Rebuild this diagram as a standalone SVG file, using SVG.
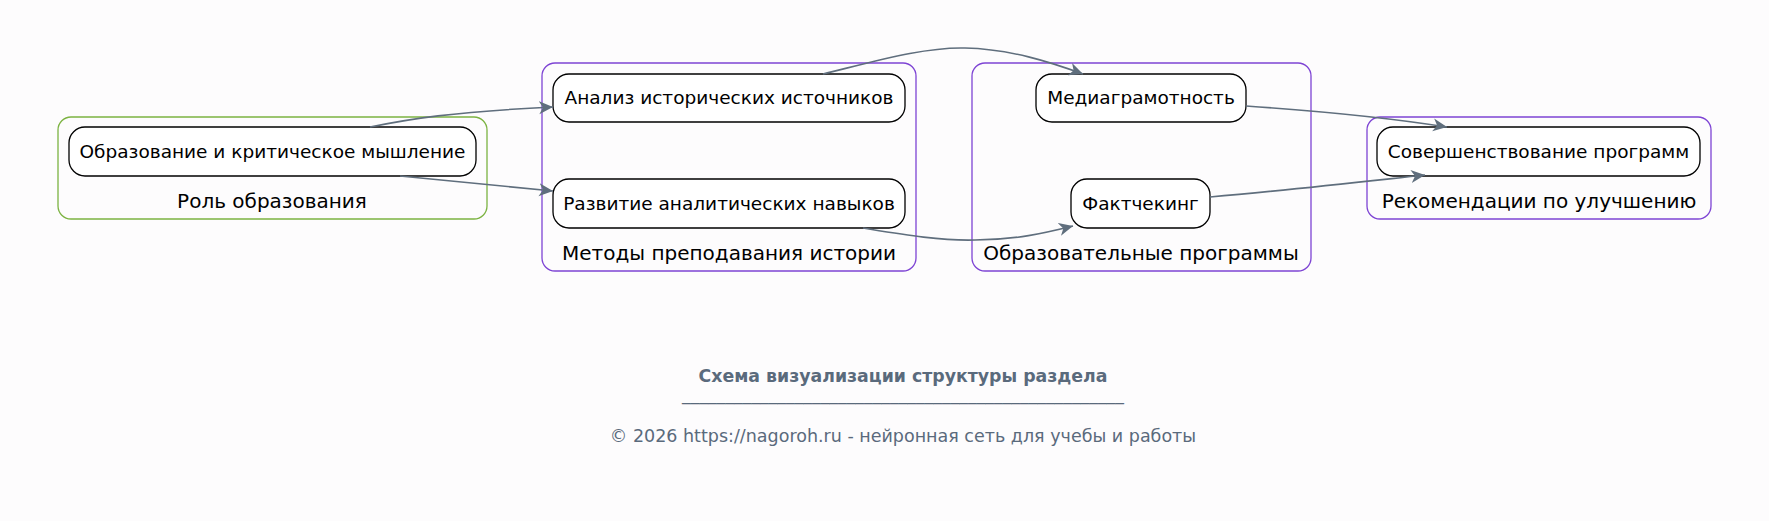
<svg xmlns="http://www.w3.org/2000/svg" width="1769" height="521" viewBox="0 0 1769 521">
<style>
.cl{fill:none;stroke:#7e44d4;stroke-width:1.3}
.cg{fill:none;stroke:#7cb342;stroke-width:1.3}
.nd{fill:#ffffff;stroke:#000000;stroke-width:1.3}
.nt{font-family:"DejaVu Sans",sans-serif;font-size:18.5px;fill:#000;text-anchor:middle}
.ct{font-family:"DejaVu Sans",sans-serif;font-size:20px;fill:#000;text-anchor:middle}
.ed{fill:none;stroke:#5f6e7d;stroke-width:1.6}
.ft{font-family:"DejaVu Sans",sans-serif;fill:#5a6a7c;text-anchor:middle}
</style>
<defs>
<marker id="ah" markerUnits="userSpaceOnUse" markerWidth="16" markerHeight="14" refX="14" refY="7" orient="auto" viewBox="0 0 16 14">
<path d="M0,0.5 L14,7 L0,13.5 L4,7 Z" fill="#5f6e7d"/>
</marker>
</defs>
<rect width="1769" height="521" fill="#fdfcfd"/>
<g id="cluster_role">
<rect class="cg" x="58" y="117" width="429" height="102" rx="13"/>
<text class="ct" x="272" y="208">Роль образования</text>
</g>
<g id="cluster_methods">
<rect class="cl" x="542" y="63" width="374" height="208" rx="13"/>
<text class="ct" x="729" y="260">Методы преподавания истории</text>
</g>
<g id="cluster_programs">
<rect class="cl" x="972" y="63" width="339" height="208" rx="13"/>
<text class="ct" x="1141" y="260">Образовательные программы</text>
</g>
<g id="cluster_recs">
<rect class="cl" x="1367" y="117" width="344" height="102" rx="13"/>
<text class="ct" x="1539" y="208">Рекомендации по улучшению</text>
</g>
<g id="node_edu">
<rect class="nd" x="69" y="127" width="407" height="49" rx="16"/>
<text class="nt" x="272.5" y="158">Образование и критическое мышление</text>
</g>
<g id="node_analysis">
<rect class="nd" x="553" y="74" width="352" height="48" rx="16"/>
<text class="nt" x="729" y="104">Анализ исторических источников</text>
</g>
<g id="node_skills">
<rect class="nd" x="553" y="179" width="352" height="49" rx="16"/>
<text class="nt" x="729" y="210">Развитие аналитических навыков</text>
</g>
<g id="node_media">
<rect class="nd" x="1036" y="74" width="210" height="48" rx="16"/>
<text class="nt" x="1141" y="104">Медиаграмотность</text>
</g>
<g id="node_fact">
<rect class="nd" x="1071" y="179" width="139" height="49" rx="16"/>
<text class="nt" x="1140.5" y="210">Фактчекинг</text>
</g>
<g id="node_improve">
<rect class="nd" x="1377" y="127" width="323" height="49" rx="16"/>
<text class="nt" x="1538.5" y="158">Совершенствование программ</text>
</g>
<g id="connectors">
<path class="ed" marker-end="url(#ah)" d="M370,127 C410,119 450,112 553,107"/>
<path class="ed" marker-end="url(#ah)" d="M400,176 C450,181 500,186 553,191"/>
<path class="ed" marker-end="url(#ah)" d="M823,74 C880,60 925,47 965,48 C1010,49 1050,62 1083,74"/>
<path class="ed" marker-end="url(#ah)" d="M863,228 C900,234 940,241 975,240 C1015,240 1045,233 1073,226"/>
<path class="ed" marker-end="url(#ah)" d="M1246,106 C1320,111 1390,118 1447,127"/>
<path class="ed" marker-end="url(#ah)" d="M1210,197 C1290,190 1360,182 1425,175"/>
</g>
<g id="footer">
<text class="ft" x="903" y="381.5" font-size="17.33" font-weight="bold">Схема визуализации структуры раздела</text>
<text class="ft" x="903" y="400" font-size="17.33">___________________________________________________</text>
<text class="ft" x="903" y="441.5" font-size="17.5">© 2026 https://nagoroh.ru - нейронная сеть для учебы и работы</text>
</g>
</svg>
